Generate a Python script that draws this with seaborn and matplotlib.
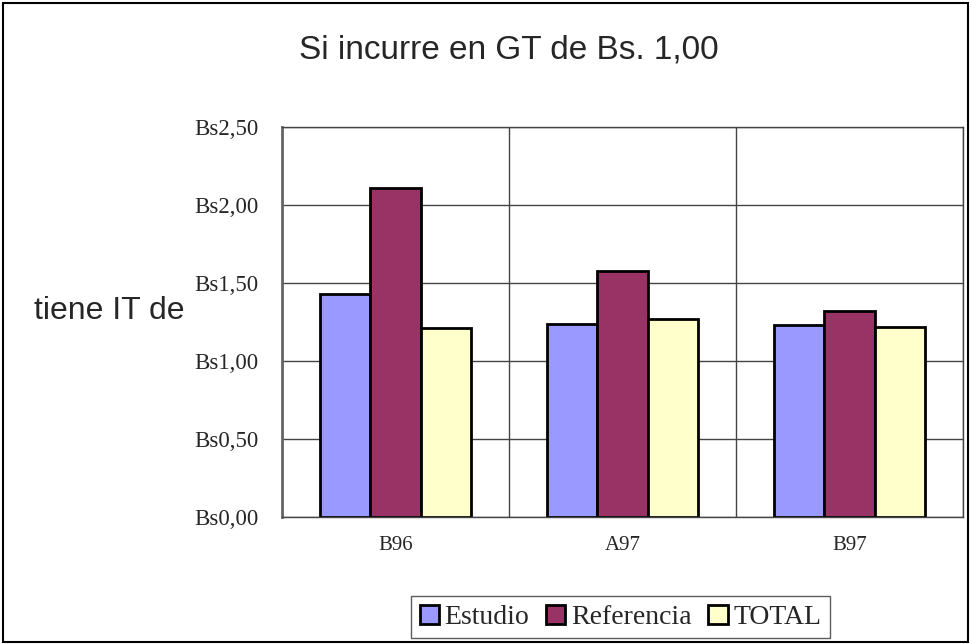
import pandas as pd
import numpy as np
import seaborn as sns
import matplotlib.pyplot as plt
from matplotlib.patches import Rectangle
from matplotlib.ticker import FixedLocator

# data
periods = ['B96', 'A97', 'B97']
series = ['Estudio', 'Referencia', 'TOTAL']
estudio = [1.43, 1.24, 1.23]
referencia = [2.11, 1.58, 1.32]
total = [1.21, 1.27, 1.22]
colors = ['#9999FF', '#993366', '#FFFFCC']

df = pd.DataFrame({
    'periodo': periods * 3,
    'serie': [s for s in series for _ in periods],
    'valor': estudio + referencia + total,
})

sns.set_style('white')
serif = ['Liberation Serif', 'DejaVu Serif']
sans = ['Liberation Sans', 'DejaVu Sans']

fig = plt.figure(figsize=(9.71, 6.44), dpi=100)
ax = fig.add_axes([0.2904, 0.1972, 0.7014, 0.6056])

sns.barplot(data=df, x='periodo', y='valor', hue='serie', order=periods,
            hue_order=series, palette=colors, width=0.665, gap=0,
            edgecolor='black', linewidth=2, saturation=1, ax=ax)

ax.set_ylim(0, 2.5)
ax.set_xlim(-0.5, 2.5)
yt = np.arange(0, 2.51, 0.5)
ax.set_yticks(yt)
ax.set_yticklabels(['Bs%s' % ('%.2f' % v).replace('.', ',') for v in yt],
                   family=serif, fontsize=16.5)
ax.set_xticks(range(len(periods)))
ax.set_xticklabels(periods, family=serif, fontsize=15)
ax.xaxis.set_minor_locator(FixedLocator([-0.5, 0.5, 1.5, 2.5]))
ax.tick_params(axis='x', which='major', length=0, pad=14)
ax.tick_params(axis='x', which='minor', length=6, width=1, color='#444444',
               direction='out')
ax.tick_params(axis='y', length=7, width=1, color='#444444',
               direction='out', pad=10)
ax.grid(axis='y', color='#444444', linewidth=1)
ax.grid(axis='x', which='minor', color='#444444', linewidth=1)
ax.set_axisbelow(True)
for sp in ax.spines.values():
    sp.set_color('#444444')
    sp.set_linewidth(1)
ax.spines['left'].set_linewidth(2)
ax.spines['left'].set_color('#666666')

ax.set_xlabel('')
ax.set_ylabel('tiene IT de', rotation=0, family=sans, fontsize=23,
              labelpad=0)
ax.yaxis.set_label_coords(-0.254, 0.49)

fig.text(0.524, 0.922, 'Si incurre en GT de Bs. 1,00', ha='center',
         va='center', family=sans, fontsize=24)

handles, labels = ax.get_legend_handles_labels()
ax.legend(handles, labels, ncol=3, loc='center', bbox_to_anchor=(0.497, -0.257),
          frameon=True, fancybox=False, edgecolor='#333333',
          prop={'family': serif, 'size': 20}, handlelength=0.7,
          handleheight=0.7, handletextpad=0.2, columnspacing=0.6,
          borderpad=0.3, borderaxespad=0)
ax.get_legend().get_frame().set_linewidth(1)

fig.patches.append(Rectangle((0.003, 0.003), 0.994, 0.993, transform=fig.transFigure,
                             fill=False, edgecolor='black', linewidth=1.5))

plt.savefig('out.png', dpi=100)
